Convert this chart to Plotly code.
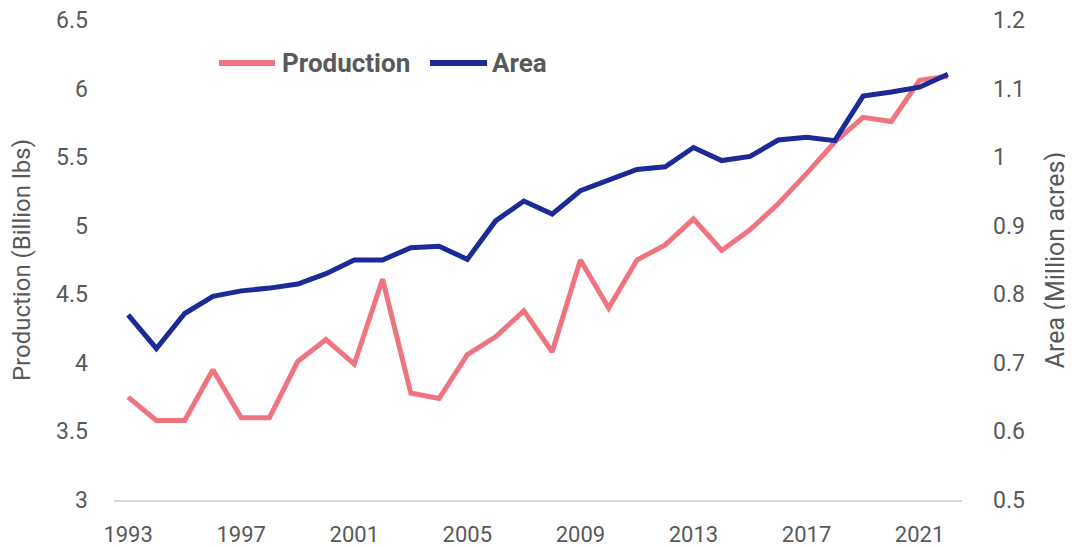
import plotly.graph_objects as go

years = list(range(1993, 2023))
production = [3.75, 3.58, 3.58, 3.95, 3.60, 3.60, 4.01, 4.17, 3.99, 4.61,
              3.78, 3.74, 4.06, 4.19, 4.38, 4.08, 4.75, 4.40, 4.75, 4.86,
              5.05, 4.82, 4.97, 5.16, 5.38, 5.61, 5.79, 5.76, 6.06, 6.09]
area = [0.770, 0.721, 0.772, 0.797, 0.805, 0.809, 0.815, 0.830, 0.850, 0.850,
        0.868, 0.870, 0.851, 0.907, 0.936, 0.917, 0.951, 0.967, 0.982, 0.986,
        1.014, 0.995, 1.001, 1.025, 1.029, 1.024, 1.089, 1.095, 1.102, 1.121]
x_ticks = [1993, 1997, 2001, 2005, 2009, 2013, 2017, 2021]
left_ticks = [3, 3.5, 4, 4.5, 5, 5.5, 6, 6.5]
right_ticks = [0.5, 0.6, 0.7, 0.8, 0.9, 1, 1.1, 1.2]
series_names = ["Production", "Area"]
series_colors = ["#F07480", "#1B2A96"]

txt = "#595959"
font_family = "Roboto, Liberation Sans, Arial"

fig = go.Figure()
fig.add_trace(go.Scatter(x=years, y=production, name=series_names[0], mode="lines",
                         line=dict(color=series_colors[0], width=5), showlegend=False))
fig.add_trace(go.Scatter(x=years, y=area, name=series_names[1], mode="lines", yaxis="y2",
                         line=dict(color=series_colors[1], width=5), showlegend=False))

# custom legend (line keys + bold labels) at the top-left of the plot area
leg_y = 0.9104
leg_items = [(0.1238, 0.1899, 0.1958), (0.3726, 0.4399, 0.4434)]
for (x0, x1, xt), name, col in zip(leg_items, series_names, series_colors):
    fig.add_shape(type="line", xref="paper", yref="paper", x0=x0, x1=x1, y0=leg_y, y1=leg_y,
                  line=dict(color=col, width=6), layer="above")
    fig.add_annotation(x=xt, y=leg_y, xref="paper", yref="paper", text=f"<b>{name}</b>",
                       showarrow=False, xanchor="left", yanchor="middle",
                       font=dict(family=font_family, size=26, color=txt))

fig.update_layout(
    width=1073, height=546,
    margin=dict(l=106, r=119, t=12, b=54),
    paper_bgcolor="white", plot_bgcolor="white",
    font=dict(family=font_family, size=22, color=txt),
    showlegend=False,
    xaxis=dict(range=[1992.5, 2022.5], tickvals=x_ticks, showgrid=False, zeroline=False,
               showline=True, linecolor="#d9d9d9", linewidth=1.5, ticks="", ticklabelstandoff=14,
               automargin=False, ticklabeloverflow="allow", tickfont=dict(size=22, color=txt)),
    yaxis=dict(range=[3, 6.5], tickvals=left_ticks, ticktext=[f"{v:g}" for v in left_ticks],
               showgrid=False, zeroline=False, showline=False, ticks="", ticklabelstandoff=25,
               automargin=False, ticklabeloverflow="allow",
               title=dict(text="Production (Billion lbs)", standoff=28, font=dict(size=24, color=txt)),
               tickfont=dict(size=23, color=txt)),
    yaxis2=dict(range=[0.5, 1.2], tickvals=right_ticks, ticktext=[f"{v:g}" for v in right_ticks],
                overlaying="y", side="right", showgrid=False, zeroline=False, showline=False,
                ticks="", ticklabelstandoff=30, automargin=False, ticklabeloverflow="allow",
                title=dict(text="Area (Million acres)", standoff=22, font=dict(size=25, color=txt)),
                tickfont=dict(size=23, color=txt)),
)

fig.write_html("out.html")
